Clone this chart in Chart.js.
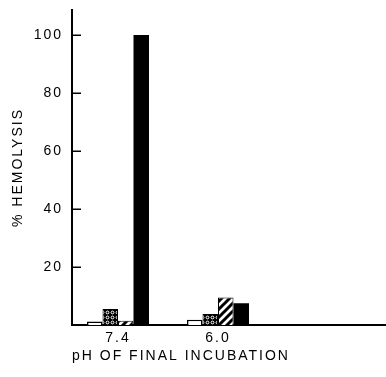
<!DOCTYPE html>
<html>
<head>
<meta charset="utf-8">
<script src="https://cdn.jsdelivr.net/npm/chart.js@4"></script>
<style>
    html, body { margin: 0; padding: 0; background: #fff; }
    #wrap { width: 386px; height: 377px; }
</style>
</head>
<body>
<div id="wrap"><canvas id="hemoChart"></canvas></div>
<script>
// pH groups and the four bar series (% hemolysis)
const phLabels = ['7.4', '6.0'];
const openBars = [1.2, 1.8];
const dottedBars = [5.5, 3.8];
const hatchedBars = [1.5, 9.5];
const solidBars = [100, 7.5];
const yTicks = [20, 40, 60, 80, 100];

function makePattern(size, draw) {
    const c = document.createElement('canvas');
    c.width = size;
    c.height = size;
    const g = c.getContext('2d');
    draw(g, size);
    return g.createPattern(c, 'repeat');
}

// black with small white rings
const dots = makePattern(5, function (g, s) {
    g.fillStyle = '#000';
    g.fillRect(0, 0, s, s);
    g.strokeStyle = '#fff';
    g.lineWidth = 1;
    g.beginPath();
    g.arc(s / 2, s / 2, 1.4, 0, Math.PI * 2);
    g.stroke();
});

// white with thick "/" stripes
const hatch = makePattern(8, function (g, s) {
    g.fillStyle = '#fff';
    g.fillRect(0, 0, s, s);
    g.strokeStyle = '#000';
    g.lineWidth = 3;
    g.beginPath();
    g.moveTo(-2, s + 2); g.lineTo(s + 2, -2);
    g.moveTo(-2, 2); g.lineTo(2, -2);
    g.moveTo(s - 2, s + 2); g.lineTo(s + 2, s - 2);
    g.stroke();
});

// x position = group number, so the linear axis can be trimmed like the figure
const toPoints = vals => vals.map((v, i) => ({ x: i + 1, y: v }));

const font = { family: "'Liberation Sans', Arial, sans-serif", size: 14 };

// short tick marks pointing into the plot, as in the figure
const innerTicks = {
    id: 'innerTicks',
    beforeDraw: chart => { chart.ctx.letterSpacing = '2px'; },
    afterDraw: chart => {
        const c = chart.ctx;
        const y = chart.scales.y;
        const left = chart.chartArea.left;
        c.save();
        c.strokeStyle = '#000';
        c.lineWidth = 1.5;
        c.beginPath();
        yTicks.forEach(v => {
            const py = Math.round(y.getPixelForValue(v)) + 0.25;
            c.moveTo(left, py);
            c.lineTo(left + 9, py);
        });
        c.stroke();
        c.restore();
    }
};

const ctx = document.getElementById('hemoChart').getContext('2d');
new Chart(ctx, {
    type: 'bar',
    data: {
        datasets: [
            { label: 'a', data: toPoints(openBars), backgroundColor: '#fff', borderColor: '#000', borderWidth: 1.5 },
            { label: 'b', data: toPoints(dottedBars), backgroundColor: dots, borderColor: '#000', borderWidth: 1 },
            { label: 'c', data: toPoints(hatchedBars), backgroundColor: hatch, borderColor: '#000', borderWidth: 1 },
            { label: 'd', data: toPoints(solidBars), backgroundColor: '#000', borderColor: '#000', borderWidth: 0 }
        ]
    },
    options: {
        responsive: true,
        maintainAspectRatio: false,
        animation: false,
        layout: { padding: { top: 10, left: 0, right: 0, bottom: 0 } },
        datasets: { bar: { categoryPercentage: 0.62, barPercentage: 1 } },
        scales: {
            x: {
                type: 'linear',
                offset: false,
                min: 0.54,
                max: 3.68,
                afterBuildTicks: s => { s.ticks = phLabels.map((l, i) => ({ value: i + 1 })); },
                afterFit: s => { s.height = 52; s.paddingLeft = 0; s.paddingRight = 0; },
                grid: { drawOnChartArea: false, drawTicks: false },
                border: { color: '#000', width: 2 },
                ticks: {
                    color: '#000', font: font, padding: 5, autoSkip: false, maxRotation: 0,
                    callback: (v, i) => phLabels[i]
                },
                title: {
                    display: true, text: 'pH OF FINAL INCUBATION', align: 'start',
                    color: '#000', font: font, padding: { top: 4, bottom: 12 }
                }
            },
            y: {
                min: 0,
                max: 108.6,
                afterBuildTicks: s => { s.ticks = yTicks.map(v => ({ value: v })); },
                afterFit: s => { s.width = 72; s.paddingTop = 0; s.paddingBottom = 0; },
                grid: { drawOnChartArea: false, drawTicks: false },
                border: { color: '#000', width: 2 },
                ticks: { color: '#000', font: font, padding: 9 },
                title: {
                    display: true, text: '% HEMOLYSIS',
                    color: '#000', font: font, padding: { top: 10, bottom: 0 }
                }
            }
        },
        plugins: {
            legend: { display: false },
            tooltip: { enabled: false }
        }
    },
    plugins: [innerTicks]
});
</script>
</body>
</html>
